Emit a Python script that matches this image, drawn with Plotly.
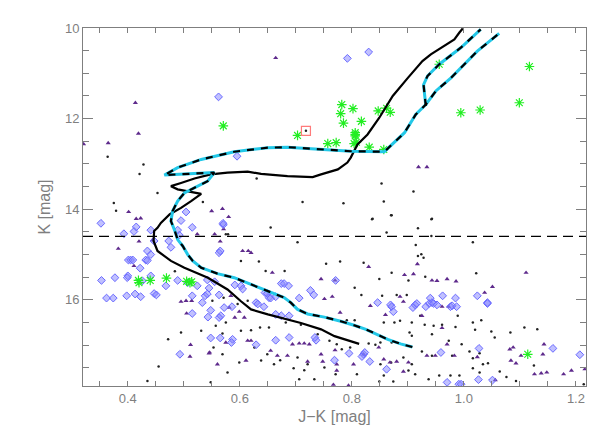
import plotly.graph_objects as go

# field stars (tiny black dots)
dot_jk = [0.364, 0.428, 0.421, 0.630, 0.453, 0.375, 0.379, 0.712, 0.785, 0.534, 0.853, 0.910,
          0.857, 0.837, 0.871, 0.943, 0.718, 0.484, 0.495, 0.531, 0.472, 0.455, 0.435,
          0.575, 0.579, 0.655, 0.703, 0.634, 0.602, 0.646, 0.680, 0.754,
          0.551, 0.571, 0.596, 0.614, 0.557, 0.575, 0.569, 0.602, 0.620, 0.636, 0.652, 0.682,
          0.709, 0.739, 0.760, 0.553, 0.569, 0.578, 0.599, 0.638, 0.672, 0.703, 0.696, 0.715,
          0.706, 0.733, 0.548, 0.751, 0.771, 0.626, 0.649, 0.661, 0.721,
          0.836, 0.870, 0.942, 0.918, 0.862, 0.942, 0.914, 0.918, 0.924, 0.928, 0.779, 0.821,
          0.871, 0.901, 0.849, 0.931, 0.805, 0.817, 0.854, 0.880, 0.898, 0.791, 0.805, 0.857,
          0.876, 0.886, 0.907, 0.922, 0.930, 0.946, 0.961, 0.985, 0.903, 0.907, 0.943, 0.973,
          0.851, 0.842, 0.830, 0.871, 0.925, 0.943, 0.979, 0.851, 0.870, 0.892, 0.907, 0.809,
          0.857, 0.901, 0.913, 0.956, 0.976, 0.937, 0.874, 0.849, 0.773, 0.782, 0.797,
          1.016, 1.022, 0.989, 1.016, 1.031, 1.020, 0.996, 1.049, 1.055, 1.083, 1.108, 1.131,
          1.010, 1.028, 1.016, 1.034, 1.043, 1.016, 1.064, 1.028, 1.076, 1.125, 1.093, 0.992,
          1.214]
dot_k = [12.84, 13.01, 13.22, 13.32, 13.64, 13.86, 14.03, 13.84, 13.87, 13.84, 13.43, 13.61,
         13.83, 14.21, 14.13, 14.21, 12.27, 15.37, 16.72, 16.68, 16.87, 17.47, 17.79,
         14.55, 14.55, 14.40, 14.73, 15.15, 15.14, 15.36, 15.36, 15.20,
         16.02, 15.95, 16.09, 16.02, 16.57, 16.50, 16.74, 16.68, 16.67, 16.61, 16.61, 16.50,
         16.55, 16.76, 16.90, 17.05, 17.20, 17.60, 17.38, 17.34, 17.33, 17.27, 17.51, 17.55,
         17.75, 17.75, 17.82, 17.49, 17.64, 17.05, 17.20, 17.42, 17.42,
         14.22, 14.13, 14.22, 14.42, 14.51, 14.59, 14.79, 15.03, 14.99, 15.07, 15.15, 15.18,
         15.40, 15.57, 15.54, 15.49, 15.73, 15.89, 15.91, 15.89, 15.89, 16.45, 16.45, 16.50,
         16.50, 16.46, 16.50, 16.35, 16.55, 16.57, 16.55, 16.60, 16.72, 16.79, 16.76, 16.90,
         16.94, 16.99, 16.96, 16.94, 17.14, 17.23, 17.23, 17.42, 17.38, 17.27, 17.42, 17.64,
         17.67, 17.56, 17.64, 17.67, 17.67, 17.75, 17.80, 17.80, 16.98, 17.09, 17.05,
         14.73, 15.41, 16.35, 16.50, 16.45, 16.66, 16.98, 16.70, 16.83, 16.72, 16.61, 16.65,
         17.14, 17.18, 17.29, 17.42, 17.40, 17.51, 17.58, 17.60, 17.70, 17.45, 17.79, 17.67,
         17.86]

# purple triangles
tri_jk = [0.664, 0.4135, 0.419, 0.365, 0.321, 0.4015, 0.5497, 0.569, 0.580, 0.415, 0.423,
          0.919, 0.934, 0.383, 0.420, 0.444, 0.524, 0.411, 0.495, 0.504, 0.514, 0.505, 0.512,
          0.511, 0.545, 0.571, 0.555, 0.565, 0.605, 0.615, 0.620, 0.658, 0.745, 0.765, 0.751,
          0.581, 0.584, 0.614, 0.620, 0.667, 0.685, 0.694, 0.706, 0.715, 0.724, 0.745, 0.748,
          0.721, 0.655, 0.575, 0.546, 0.611, 0.560, 0.599, 0.591, 0.608,
          0.830, 0.770, 0.894, 0.910, 0.917, 0.943, 0.952, 0.970, 0.986, 0.833, 0.886, 0.892,
          0.860, 0.961, 0.973, 0.779, 0.961, 0.770, 0.773, 0.773, 0.803, 0.821, 0.848, 0.868,
          0.880, 0.934, 0.949, 0.767, 0.794, 0.925, 0.857, 0.901, 0.892, 0.970, 0.983,
          1.051, 1.037, 1.111, 1.082, 1.088, 1.084, 1.093, 1.102, 1.143, 1.141, 1.126, 1.138,
          1.148, 1.178, 1.192, 1.216, 1.024, 1.056]
tri_k = [10.66, 11.65, 12.33, 12.54, 12.56, 14.06, 14.04, 13.99, 14.17, 14.21, 14.20,
         13.07, 13.07, 14.87, 14.71, 14.68, 14.55, 15.25, 16.04, 16.02, 16.02, 16.30, 16.99,
         17.25, 17.18, 14.44, 14.55, 14.71, 14.92, 14.92, 14.96, 15.40, 15.54, 15.93, 15.98,
         16.17, 15.91, 16.90, 16.90, 17.23, 17.23, 16.98, 16.96, 16.96, 16.98, 17.20, 17.36,
         17.36, 17.12, 16.94, 17.16, 17.34, 17.42, 16.26, 16.39, 16.39,
         15.27, 15.57, 15.45, 15.43, 15.21, 15.57, 15.58, 15.54, 15.59, 16.13, 15.93, 16.04,
         16.33, 16.15, 16.15, 16.28, 16.62, 17.11, 17.56, 17.42, 17.42, 17.20, 17.05, 17.38,
         17.36, 17.23, 17.23, 17.87, 17.89, 16.35, 17.31, 17.38, 17.58, 16.98, 17.23,
         15.71, 15.84, 15.40, 17.09, 17.05, 17.34, 17.40, 17.23, 16.98, 17.20, 17.64, 17.62,
         17.60, 17.64, 17.56, 17.53, 17.26, 17.77]

# cluster members (blue diamonds)
dia_jk = [0.792, 0.830, 0.562, 0.595, 0.504, 0.495, 0.352, 0.5705, 0.415, 0.515, 0.411,
          0.393, 0.441, 0.447, 0.489, 0.492, 0.473, 0.477, 0.435, 0.441, 0.401, 0.405, 0.409,
          0.432, 0.435, 0.422, 0.400, 0.399, 0.377, 0.353, 0.441, 0.426, 0.468, 0.489, 0.507,
          0.524, 0.398, 0.413, 0.423, 0.447, 0.451, 0.362, 0.374, 0.515, 0.538, 0.542, 0.533,
          0.515, 0.493,
          0.570, 0.563, 0.565, 0.542, 0.555, 0.545, 0.563, 0.591, 0.602, 0.605, 0.548, 0.566,
          0.563, 0.586, 0.629, 0.632, 0.645, 0.649, 0.652, 0.655, 0.664, 0.674, 0.679, 0.687,
          0.688, 0.674, 0.706, 0.726, 0.732, 0.736, 0.734, 0.587, 0.585, 0.565, 0.548, 0.629,
          0.664, 0.688, 0.664, 0.771, 0.543, 0.572, 0.643,
          0.846, 0.869, 0.871, 0.874, 0.909, 0.913, 0.916, 0.932, 0.940, 0.938, 0.943, 0.946,
          0.952, 0.962, 0.976, 0.979, 0.985, 0.987, 0.795, 0.821, 0.818, 0.823, 0.832, 0.769,
          0.862, 0.959, 0.970, 0.991,
          1.024, 1.042, 1.042, 1.027, 1.159, 1.207, 1.026, 1.051, 0.995]
dia_k = [10.67, 10.53, 11.52, 12.83, 14.06, 14.25, 14.31, 14.34, 14.39, 14.40, 14.49,
         14.54, 14.46, 14.70, 14.46, 14.57, 14.70, 14.84, 14.92, 15.00, 15.12, 15.12, 15.12,
         15.12, 15.13, 15.30, 15.47, 15.51, 15.51, 15.57, 15.47, 15.58, 15.69, 15.57, 15.62,
         15.69, 15.91, 15.87, 15.93, 15.86, 15.89, 15.96, 15.96, 15.91, 15.91, 15.87, 16.06,
         16.30, 17.20,
         14.31, 14.96, 14.92, 15.56, 15.60, 15.74, 15.89, 15.67, 15.69, 15.76, 16.23, 16.35,
         16.39, 16.15, 16.06, 16.09, 15.84, 15.86, 15.95, 15.96, 15.93, 15.64, 15.64, 15.69,
         16.35, 16.35, 15.96, 15.79, 15.89, 16.89, 16.83, 16.87, 16.94, 16.84, 16.84, 16.99,
         16.89, 16.83, 16.32, 15.57, 16.38, 16.17, 16.15,
         16.06, 16.11, 16.15, 16.26, 16.17, 16.11, 16.08, 16.15, 15.96, 16.08, 16.06, 16.08,
         16.11, 15.91, 16.15, 16.13, 15.96, 16.15, 17.18, 17.20, 17.25, 17.16, 17.36, 17.33,
         17.53, 17.16, 17.82, 17.86,
         15.91, 16.06, 16.08, 17.07, 17.07, 17.21, 17.76, 17.77, 17.86]

# green asterisks
ast_jk = [0.5705, 0.703, 0.757, 0.772, 0.782, 0.780, 0.802, 0.785, 0.817, 0.806, 0.806,
          0.806, 0.804, 0.808, 0.956, 1.117, 1.099, 0.9945, 1.029, 0.847, 0.862, 0.8685,
          0.831, 0.857, 0.419, 0.420, 0.440, 0.469, 0.505, 0.511, 0.514, 1.114]
ast_k = [12.16, 12.37, 12.55, 12.53, 11.69, 11.89, 11.78, 12.10, 12.06, 12.31, 12.35,
         12.38, 12.55, 12.52, 10.80, 10.85, 11.65, 11.87, 11.81, 11.83, 11.77, 11.86,
         12.63, 12.68, 15.57, 15.62, 15.57, 15.52, 15.59, 15.62, 15.60, 17.20]

# red square
sq_jk = [0.718]
sq_k = [12.27]

# isochrone 1 (solid black)
iso1_jk = [0.813, 0.780, 0.769, 0.745, 0.709, 0.650, 0.620, 0.602, 0.578, 0.543, 0.501,
           0.477, 0.453, 0.446, 0.447, 0.453, 0.459, 0.475, 0.495, 0.513, 0.531, 0.489,
           0.477, 0.495, 0.519, 0.548, 0.578, 0.614, 0.638, 0.685, 0.730, 0.745, 0.775,
           0.792, 0.798, 0.810, 0.828, 0.849, 0.873, 0.900, 0.926, 0.941, 0.965, 0.983,
           0.992, 0.998]
iso1_k = [16.97, 16.84, 16.80, 16.65, 16.51, 16.32, 16.21, 16.03, 15.77, 15.51, 15.29,
          15.14, 14.92, 14.70, 14.48, 14.41, 14.30, 14.11, 13.97, 13.82, 13.66, 13.56,
          13.49, 13.42, 13.32, 13.23, 13.19, 13.17, 13.22, 13.27, 13.29, 13.23, 13.12,
          12.97, 12.86, 12.57, 12.35, 11.98, 11.50, 11.10, 10.73, 10.58, 10.40, 10.25,
          10.10, 10.01]

# isochrone 2 (cyan / dashed), None separates the AGB piece
iso2_jk = [0.908, 0.887, 0.864, 0.840, 0.825, 0.804, 0.780, 0.751, 0.721, 0.703, 0.691,
           0.679, 0.650, 0.620, 0.590, 0.560, 0.531, 0.516, 0.507, 0.498, 0.489, 0.484,
           0.477, 0.480, 0.489, 0.501, 0.519, 0.5425, 0.5545, 0.4653, 0.489, 0.531, 0.590,
           0.650, 0.685, 0.721, 0.798, 0.858, 0.879, 0.894, 0.914, 0.932, 0.950, 0.977,
           1.024, 1.063, None, 0.932, 0.928, 0.935, 0.956, 0.995, 1.030]
iso2_k = [17.04, 16.97, 16.87, 16.73, 16.65, 16.56, 16.47, 16.38, 16.31, 16.21, 16.06,
          15.95, 15.81, 15.67, 15.51, 15.42, 15.29, 15.14, 15.00, 14.81, 14.67, 14.48,
          14.26, 14.04, 13.82, 13.64, 13.53, 13.38, 13.19, 13.245, 13.08, 12.90, 12.73,
          12.64, 12.63, 12.66, 12.72, 12.73, 12.49, 12.31, 11.91, 11.69, 11.39, 11.10,
          10.51, 10.12, None, 11.72, 11.25, 11.06, 10.80, 10.43, 10.03]

cut_k = 14.6

grey = "#7f7f7f"
font = dict(family="Liberation Sans, Arial, sans-serif", size=13, color=grey)

fig = go.Figure()
fig.add_trace(go.Scatter(x=dot_jk, y=dot_k, mode="markers",
                         marker=dict(symbol="circle", size=2.5, color="#222222")))
fig.add_trace(go.Scatter(x=tri_jk, y=tri_k, mode="markers",
                         marker=dict(symbol="triangle-up", size=4.5, color="#5e2a8c")))
fig.add_trace(go.Scatter(x=dia_jk, y=dia_k, mode="markers",
                         marker=dict(symbol="diamond", size=6, color="rgba(130,130,255,0.5)",
                                     line=dict(color="#6a6aff", width=1))))
fig.add_trace(go.Scatter(x=ast_jk, y=ast_k, mode="markers",
                         marker=dict(symbol="asterisk-open", size=8, color="#22ee22",
                                     line=dict(color="#22ee22", width=1.2))))
fig.add_trace(go.Scatter(x=sq_jk, y=sq_k, mode="markers",
                         marker=dict(symbol="square-open", size=9, color="#ff7a7a",
                                     line=dict(color="#ff7a7a", width=1.2))))

fig.add_hline(y=cut_k, line=dict(color="black", width=1.3, dash="10px,6px"))

fig.add_trace(go.Scatter(x=iso1_jk, y=iso1_k, mode="lines",
                         line=dict(color="black", width=2.2)))
fig.add_trace(go.Scatter(x=iso2_jk, y=iso2_k, mode="lines",
                         line=dict(color="#22c8e8", width=3)))
fig.add_trace(go.Scatter(x=iso2_jk, y=iso2_k, mode="lines",
                         line=dict(color="black", width=2.2, dash="7px,7px")))

fig.update_layout(
    width=598, height=428,
    margin=dict(l=75, r=20, t=20, b=50),
    plot_bgcolor="white", paper_bgcolor="white",
    showlegend=False, font=font,
)
fig.update_xaxes(
    range=[0.32, 1.218], tickvals=[0.4, 0.6, 0.8, 1.0, 1.2],
    ticktext=["0.4", "0.6", "0.8", "1.0", "1.2"],
    ticks="inside", ticklen=5, tickcolor=grey, mirror="ticks",
    showline=True, linecolor=grey, linewidth=1, showgrid=False, zeroline=False,
    minor=dict(dtick=0.05, tick0=0.3, ticks="inside", ticklen=5, tickcolor=grey, showgrid=False),
    title=dict(text="J\u2212K [mag]", standoff=6), tickfont=font,
)
fig.update_yaxes(
    range=[17.9, 10], tickvals=[10, 12, 14, 16],
    ticks="inside", ticklen=10, tickcolor=grey, mirror="ticks",
    showline=True, linecolor=grey, linewidth=1, showgrid=False, zeroline=False,
    minor=dict(dtick=0.5, tick0=10, ticks="inside", ticklen=6, tickcolor=grey, showgrid=False),
    title=dict(text="K [mag]", standoff=10), tickfont=font,
)

fig.write_html("out.html")
